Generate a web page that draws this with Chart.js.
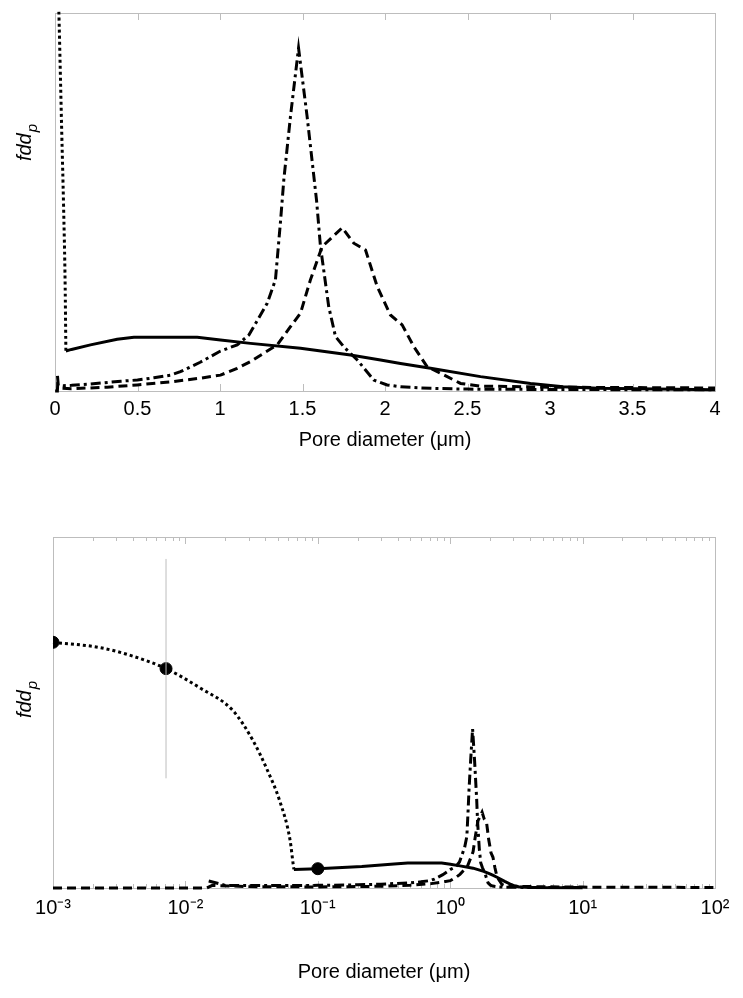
<!DOCTYPE html>
<html>
<head>
<meta charset="utf-8">
<script src="https://cdn.jsdelivr.net/npm/chart.js@4.4.1/dist/chart.umd.min.js"></script>
<style>
  body { margin: 0; background: #fff; width: 743px; height: 998px; overflow: hidden; }
  .panel { position: absolute; left: 0; }
</style>
</head>
<body>
<div class="panel" style="top:0"><canvas id="lin-chart" width="743" height="470"></canvas></div>
<div class="panel" style="top:490px"><canvas id="log-chart" width="743" height="508"></canvas></div>
<script>
// pore size distributions, fdd_p in arbitrary units (top panel height = 100)
const dottedX = [0.001, 0.00226, 0.00405, 0.00714, 0.0129, 0.0229, 0.0324, 0.0411, 0.0519, 0.0617, 0.0653, 0.066];
const dottedY = [140, 137, 132, 125, 114, 101, 84, 68, 49, 27.4, 13, 10.6];

const solidX = [0.066, 0.1, 0.215, 0.377, 0.478, 0.862, 1.003, 1.185, 1.488, 1.791, 1.973, 2.094, 2.276, 2.579, 2.882, 3.08, 3.29, 4, 10];
const solidY = [10.6, 11, 12.2, 13.7, 14.2, 14.2, 13.5, 12.6, 11.3, 9.5, 8.2, 7.3, 6.0, 3.8, 2.0, 1.1, 0.7, 0.3, 0.2];

const dashDotX = [0.015, 0.02, 0.05, 0.1, 0.2, 0.3, 0.4, 0.5, 0.6, 0.7, 0.76, 0.88, 1.0, 1.104, 1.175, 1.286, 1.336, 1.367, 1.387, 1.427, 1.476, 1.528, 1.585, 1.609, 1.659, 1.7, 1.75, 1.832, 1.932, 2.013, 2.094, 2.276, 2.5, 3, 4, 10];
const dashDotY = [4, 1.5, 1.4, 1.5, 1.8, 2.2, 2.6, 2.9, 3.5, 4.2, 5.1, 7.6, 10.5, 12.2, 14.8, 23.2, 29.4, 45, 56, 72.6, 90.7, 72.6, 50.5, 38.2, 22.3, 14.4, 11.7, 8.2, 2.9, 1.6, 1.1, 0.7, 0.5, 0.4, 0.3, 0.3];

const dashedX = [0.001, 0.0145, 0.016, 0.03, 0.1, 0.2, 0.316, 0.498, 0.72, 0.882, 1.003, 1.104, 1.185, 1.347, 1.427, 1.488, 1.548, 1.619, 1.741, 1.811, 1.882, 1.953, 2.033, 2.104, 2.175, 2.256, 2.377, 2.458, 2.579, 3, 4, 10, 100];
const dashedY = [0, 0, 1.5, 0.8, 0.6, 0.8, 1.0, 1.6, 2.5, 3.4, 4.2, 6.0, 7.8, 12.2, 17.0, 20.6, 29.4, 38.2, 43.2, 39.1, 37.3, 27.6, 20.1, 17.5, 11.7, 6.4, 3.8, 2.0, 1.3, 1.0, 0.8, 0.5, 0.3];

// marked points and error bar (log panel only)
const markerX = [0.001, 0.00714, 0.1];
const markerY = [140, 125, 11];
const errBarX = [0.00714, 0.00714];
const errBarY = [62.5, 187.5];

// axis ticks
const linTicks = [0, 0.5, 1, 1.5, 2, 2.5, 3, 3.5, 4];
const linTickLabels = ['0', '0.5', '1', '1.5', '2', '2.5', '3', '3.5', '4'];
const logTickValues = [0.001, 0.01, 0.1, 1, 10, 100];
const logTickLabels = ['10\u207B\u00B3', '10\u207B\u00B2', '10\u207B\u00B9', '10\u2070', '10\u00B9', '10\u00B2'];

const FONT = "'Liberation Sans', Arial, sans-serif";
const GREY = '#bdbdbd';

const pts = (xs, ys) => xs.map((x, i) => ({ x, y: ys[i] }));

function lineSet(xs, ys, dash, extra) {
  return Object.assign({
    data: pts(xs, ys),
    borderColor: '#000',
    borderWidth: 3,
    borderDash: dash,
    borderCapStyle: 'butt',
    pointRadius: 0,
    fill: false,
    tension: 0,
    // let the baseline sit fully on the bottom frame, keep the top clipped
    clip: { left: 2, top: 1.5, right: 2, bottom: 4 }
  }, extra || {});
}

function curveSets() {
  return [
    lineSet(dashedX, dashedY, [9, 5]),
    lineSet(dashDotX, dashDotY, [10, 4, 3, 4]),
    lineSet(solidX, solidY, []),
    lineSet(dottedX, dottedY, [3, 3], { cubicInterpolationMode: 'monotone' })
  ];
}

// grey frame, inward ticks, rotated y title
function framePlugin(ticks, labelY) {
  return {
    id: 'frame',
    beforeDatasetsDraw(chart) {
      const { ctx, chartArea: a, scales: { x } } = chart;
      ctx.save();
      ctx.strokeStyle = GREY;
      ctx.lineWidth = 1;
      ctx.strokeRect(a.left + 0.5, a.top + 0.5, a.right - a.left, a.bottom - a.top);
      ticks.forEach(t => {
        const px = Math.round(x.getPixelForValue(t.v)) + 0.5;
        ctx.beginPath();
        ctx.moveTo(px, a.top);
        ctx.lineTo(px, a.top + t.len);
        ctx.moveTo(px, a.bottom);
        ctx.lineTo(px, a.bottom - t.len);
        ctx.stroke();
      });
      ctx.restore();
    },
    afterDraw(chart) {
      const ctx = chart.ctx;
      ctx.save();
      ctx.translate(31, labelY);
      ctx.rotate(-Math.PI / 2);
      ctx.fillStyle = '#000';
      ctx.textBaseline = 'alphabetic';
      ctx.font = 'italic 20px ' + FONT;
      const w1 = ctx.measureText('fdd').width;
      ctx.font = 'italic 15px ' + FONT;
      const w2 = ctx.measureText('p').width;
      const x0 = -(w1 + w2) / 2;
      ctx.font = 'italic 20px ' + FONT;
      ctx.fillText('fdd', x0, 0);
      ctx.font = 'italic 15px ' + FONT;
      ctx.fillText('p', x0 + w1 + 1, 6);
      ctx.restore();
    }
  };
}

function xTitle() {
  return { display: true, text: 'Pore diameter (\u03BCm)', color: '#000', font: { family: FONT, size: 20 }, padding: { top: 0, bottom: 0 } };
}

// top panel: linear axis
const linTickMarks = linTicks.map(v => ({ v, len: 7 }));
new Chart(document.getElementById('lin-chart').getContext('2d'), {
  type: 'line',
  data: { datasets: curveSets() },
  options: {
    responsive: false,
    animation: false,
    devicePixelRatio: 1,
    layout: { padding: { left: 55, right: 28, top: 13, bottom: 18 } },
    plugins: { legend: { display: false }, tooltip: { enabled: false } },
    scales: {
      x: {
        type: 'linear', min: 0, max: 4,
        grid: { display: false, drawTicks: false },
        border: { display: false },
        afterBuildTicks: s => { s.ticks = linTicks.map(v => ({ value: v })); },
        afterFit: s => { s.height = 61; },
        ticks: {
          color: '#000', padding: 6, font: { family: FONT, size: 20 }, maxRotation: 0, autoSkip: false,
          callback: (v, i) => linTickLabels[i]
        },
        title: xTitle()
      },
      y: { display: false, min: 0, max: 100 }
    }
  },
  plugins: [framePlugin(linTickMarks, 143)]
});

// bottom panel: log axis, same curves plus markers
const logTickMarks = [];
logTickValues.forEach((d, i) => {
  logTickMarks.push({ v: d, len: 7 });
  if (i < logTickValues.length - 1) {
    for (let m = 2; m <= 9; m++) logTickMarks.push({ v: d * m, len: 4 });
  }
});

const logSets = [
  lineSet(errBarX, errBarY, [], { borderColor: GREY, borderWidth: 1 }),
  ...curveSets(),
  {
    type: 'scatter',
    data: pts(markerX, markerY),
    backgroundColor: '#000',
    borderColor: '#000',
    pointRadius: 6,
    showLine: false
  }
];

new Chart(document.getElementById('log-chart').getContext('2d'), {
  type: 'line',
  data: { datasets: logSets },
  options: {
    responsive: false,
    animation: false,
    devicePixelRatio: 1,
    layout: { padding: { left: 53, right: 28, top: 47, bottom: 14 } },
    plugins: { legend: { display: false }, tooltip: { enabled: false } },
    scales: {
      x: {
        type: 'logarithmic', min: 0.001, max: 100,
        grid: { display: false, drawTicks: false },
        border: { display: false },
        afterBuildTicks: s => { s.ticks = logTickValues.map(v => ({ value: v })); },
        afterFit: s => { s.height = 96; },
        ticks: {
          color: '#000', padding: 8, font: { family: FONT, size: 20 }, maxRotation: 0, autoSkip: false,
          callback: (v, i) => logTickLabels[i]
        },
        title: xTitle()
      },
      y: { display: false, min: 0, max: 200 }
    }
  },
  plugins: [framePlugin(logTickMarks, 210)]
});
</script>
</body>
</html>
